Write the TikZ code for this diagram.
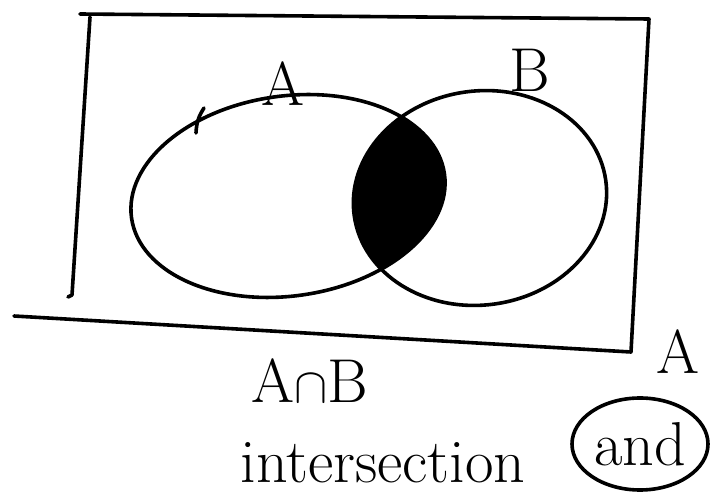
\documentclass[tikz,border=0pt]{standalone}
\usepackage{tikz}
\usetikzlibrary{shapes.geometric}
\tikzset{
  penline/.style = {draw=black, line width=1.8pt, line cap=round, line join=round},
  hand/.style    = {font=\fontsize{31}{35}\selectfont, inner sep=0pt},
  andbox/.style  = {ellipse, penline, inner sep=0pt, minimum width=68pt, minimum height=46pt},
}
\begin{document}
\begin{tikzpicture}[x=0.5pt, y=-0.5pt]
    \useasboundingbox (0,0) rectangle (714,492);
    % universe box
    \draw[penline] (80,14) -- (649,19) -- (631,352) -- (14,316);
    \draw[penline] (90,17) -- (72,295) -- (68,297);
    % overlap, shaded
    \begin{scope}
        \clip (288,196) ellipse [x radius=158, y radius=100, rotate=8];
        \fill (480,198) ellipse [x radius=127, y radius=107, rotate=8];
    \end{scope}
    % the two sets
    \draw[penline] (288,196) ellipse [x radius=158, y radius=100, rotate=8];
    \draw[penline] (480,198) ellipse [x radius=127, y radius=107, rotate=8];
    \draw[penline] (196,133) to[bend left=15] (204,108);
    \node[hand] (labA) at (283,84) {A};
    \node[hand] (labB) at (530,70) {B};
    % notation
    \node[hand] (capAB) at (310,381) {A$\cap$B};
    \node[hand] (word)  at (383,463) {intersection};
    \node[hand] (sideA) at (678,352) {A};
    \node[hand, andbox] (andword) at (640,444) {and};
\end{tikzpicture}
\end{document}
